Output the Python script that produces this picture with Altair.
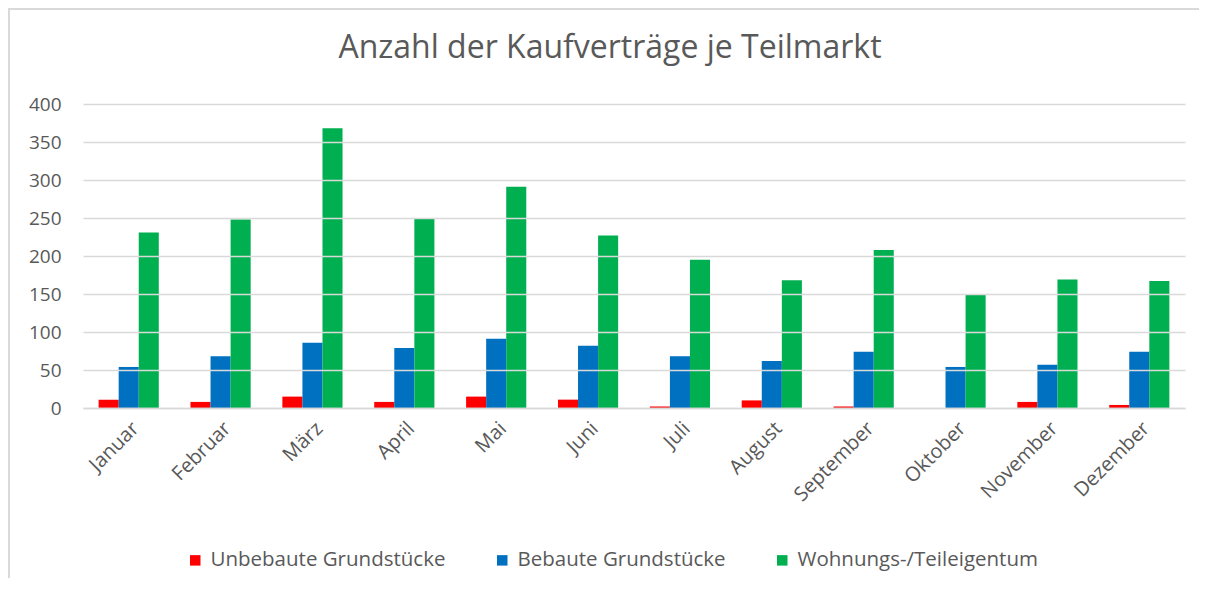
import altair as alt
import pandas as pd

months = ["Januar", "Februar", "März", "April", "Mai", "Juni", "Juli",
          "August", "September", "Oktober", "November", "Dezember"]
series = ["Unbebaute Grundstücke", "Bebaute Grundstücke", "Wohnungs-/Teileigentum"]
colors = ["#ff0000", "#0070c0", "#00b050"]
title_text = ["Anzahl der Kaufverträge je Teilmarkt"]

unbebaut = [11, 8, 15, 8, 15, 11, 2, 10, 2, 0, 8, 4]
bebaut = [54, 68, 86, 79, 91, 82, 68, 62, 74, 54, 57, 74]
wohnung = [231, 248, 368, 250, 291, 227, 195, 168, 208, 149, 169, 167]

rows = []
for name, vals in zip(series, [unbebaut, bebaut, wohnung]):
    for m, v in zip(months, vals):
        rows.append({"Monat": m, "Serie": name, "Wert": v})
df = pd.DataFrame(rows)

W, H = 1102, 304
PL, PT, PR, PB = 75, 96, 14, 170
FONT = "Open Sans"
GREY = "#595959"

bars = alt.Chart(df).mark_bar().encode(
    x=alt.X("Monat:N", sort=months, title=None,
            scale=alt.Scale(paddingInner=0.345, paddingOuter=0.17),
            axis=alt.Axis(labelAngle=-45, labelFontSize=20, labelFont=FONT,
                          labelColor=GREY, ticks=False, domain=True,
                          domainColor="#d9d9d9", domainWidth=1.5,
                          labelPadding=10, labelLimit=0, zindex=1)),
    xOffset=alt.XOffset("Serie:N", sort=series),
    y=alt.Y("Wert:Q", title=None,
            scale=alt.Scale(domain=[0, 400], nice=False),
            axis=alt.Axis(values=list(range(0, 401, 50)), labelFontSize=19,
                          labelFont=FONT, labelColor=GREY, ticks=False,
                          domain=False, gridColor="#d9d9d9", gridWidth=1.5,
                          labelPadding=22, zindex=1)),
    color=alt.Color("Serie:N", sort=series,
                    scale=alt.Scale(domain=series, range=colors),
                    legend=alt.Legend(title=None, orient="none",
                                      direction="horizontal",
                                      legendX=102, legendY=446,
                                      symbolType="square", symbolSize=110,
                                      symbolStrokeWidth=0,
                                      labelFontSize=20.5, labelFont=FONT,
                                      labelColor=GREY, labelOffset=5,
                                      labelLimit=0,
                                      columnPadding=46)),
)

title = alt.Chart(pd.DataFrame({"t": title_text})).mark_text(
    font=FONT, fontSize=32, color=GREY, align="center", baseline="alphabetic"
).encode(text="t:N", x=alt.value(W / 2 - 24), y=alt.value(-46))

top_border = alt.Chart(df).mark_rule(color="#d9d9d9", strokeWidth=1.5).encode(
    x=alt.value(-PL), x2=alt.value(W + PR), y=alt.value(-PT + 1)
)
left_border = alt.Chart(df).mark_rule(color="#d9d9d9", strokeWidth=1.5).encode(
    x=alt.value(-PL + 1), y=alt.value(-PT), y2=alt.value(H + PB)
)

chart = alt.layer(top_border, left_border, title, bars).properties(
    width=W, height=H,
    autosize=alt.AutoSizeParams(type="none"),
    padding={"left": PL, "top": PT, "right": PR, "bottom": PB},
).configure_view(stroke=None)

chart.save("out.html", embed_options={"renderer": "svg", "actions": False})
